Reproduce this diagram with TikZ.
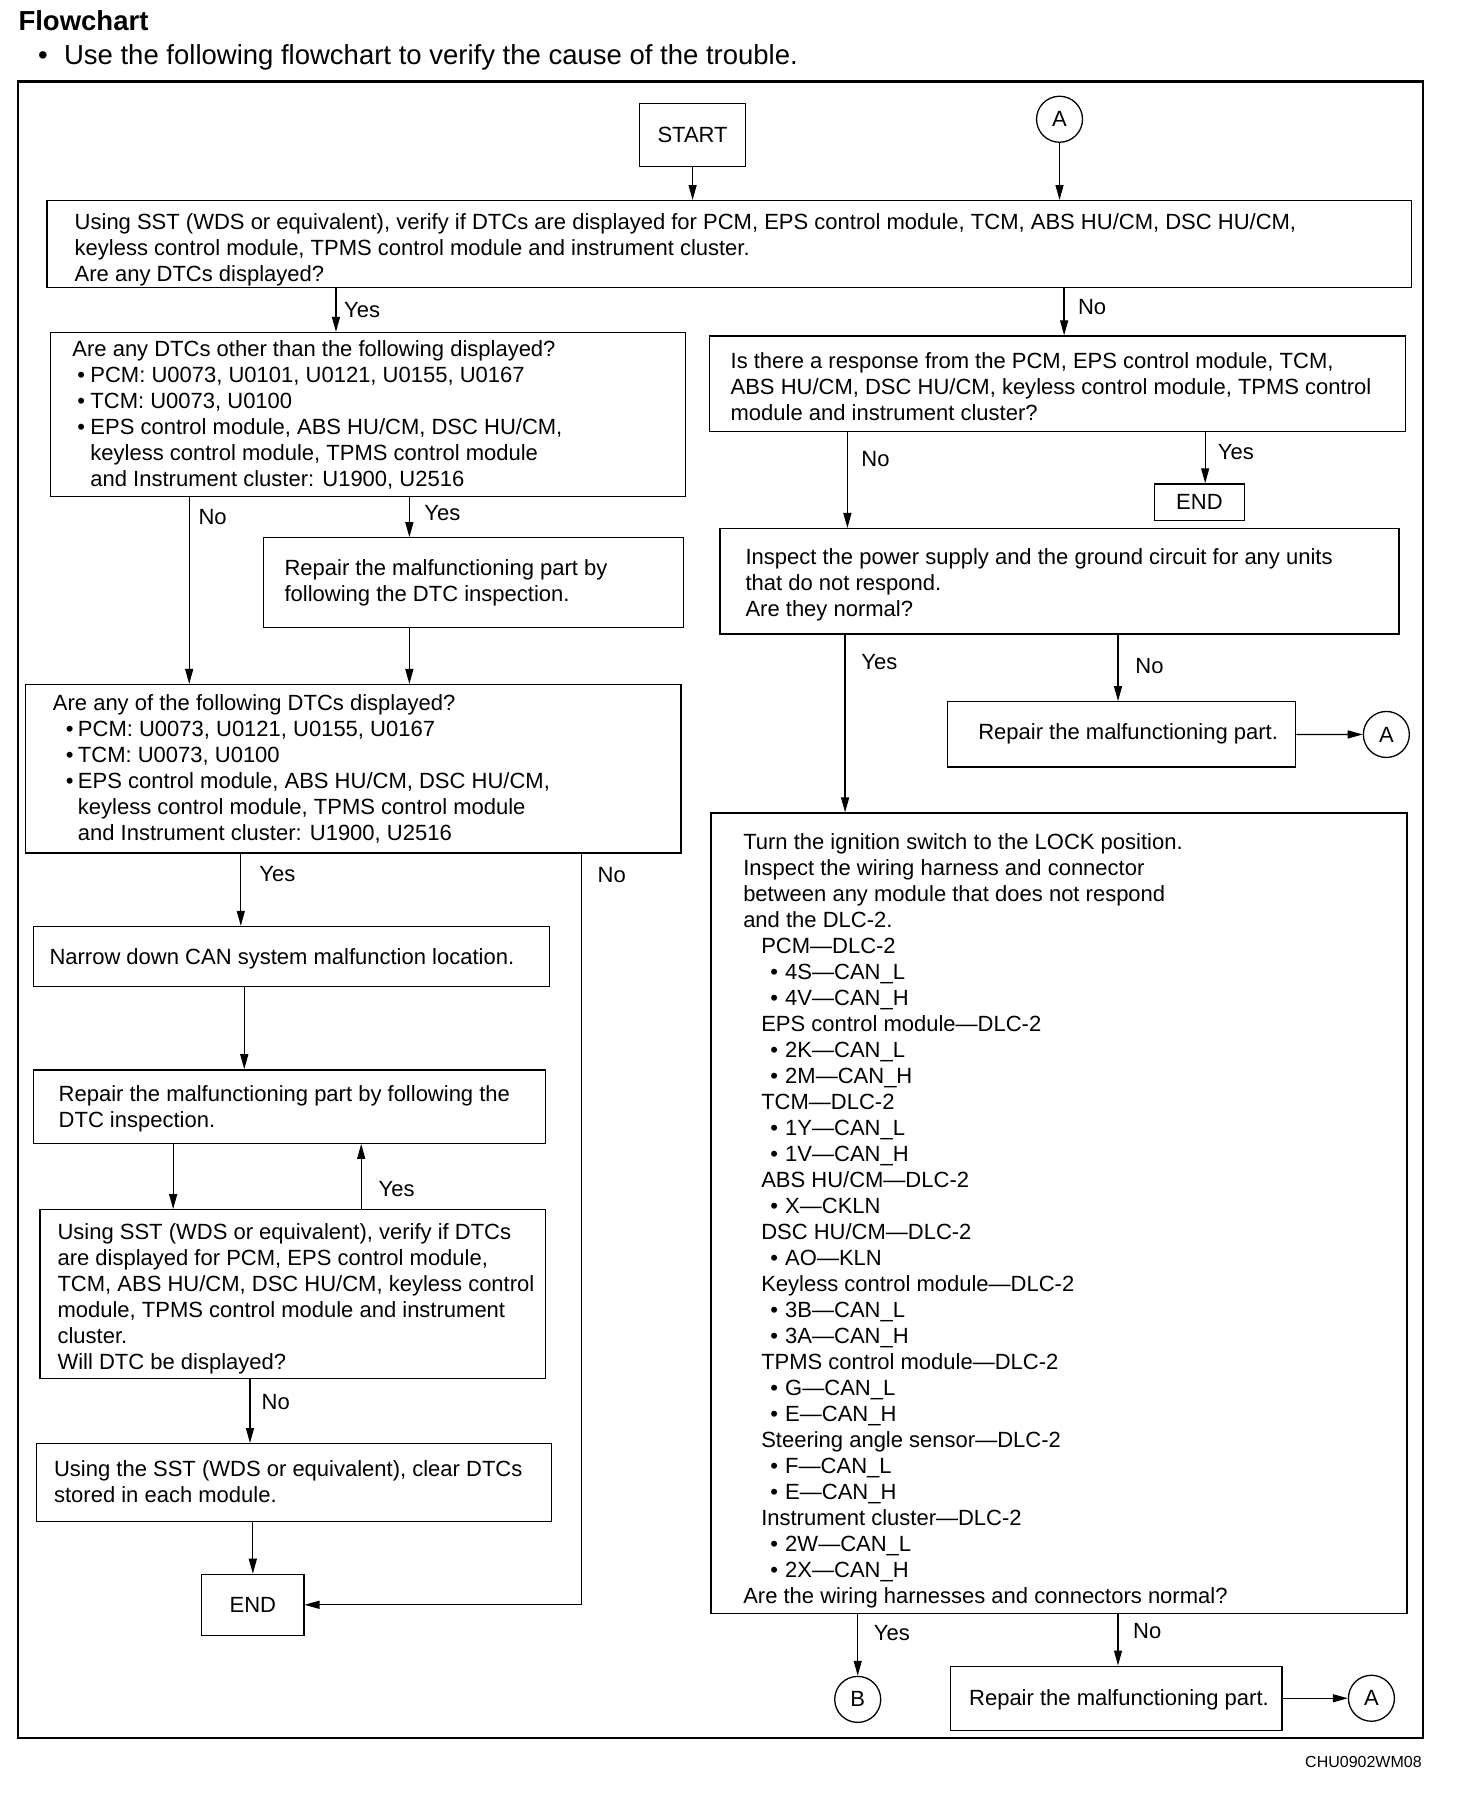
\documentclass[tikz,border=0pt]{standalone}
\usepackage{fontspec}
\setmainfont{Liberation Sans}
\usetikzlibrary{arrows.meta,fit}
\newcommand\txtlines[1]{\begin{tabular}[t]{@{}l@{}}#1\end{tabular}}
\tikzset{
  boxline/.style={draw, line width=1.3pt, inner sep=0pt},
  txt/.style={anchor=base west, inner sep=0pt, font=\fontsize{22}{26}\selectfont},
  conn/.style={line width=1.3pt, -{Triangle[length=15pt,width=8pt]}},
  circ/.style={draw, circle, line width=1.3pt, minimum size=46pt, inner sep=0pt, font=\fontsize{22}{26}\selectfont},
  termbox/.style={draw, line width=1.3pt, inner sep=0pt, font=\fontsize{22}{26}\selectfont},
}
\begin{document}
\begin{tikzpicture}[x=1.1465pt,y=-1.1465pt]
\fill[white] (0,0) rectangle (1270,1568);
\useasboundingbox (0,0) rectangle (1270,1568);

% heading
\node[anchor=base west, inner sep=0pt, font=\fontsize{27.5}{31}\selectfont\bfseries] (title) at (16,27) {Flowchart};
\node[anchor=base west, inner sep=0pt, font=\fontsize{27.5}{31}\selectfont] (intro) at (33,56) {\makebox[26pt][l]{\textbullet}Use the following flowchart to verify the cause of the trouble.};
\node[anchor=base east, inner sep=0pt, font=\fontsize{16}{19}\selectfont] (code) at (1240,1541) {CHU0902WM08};

% frame
\node[draw, line width=2.2pt, inner sep=0pt, fit={(16,71)(1241,1516)}] (frame) {};

% top
\node[termbox, minimum width=105.5pt, minimum height=63pt] (start) at (604,117.5) {START};
\node[circ] (cA1) at (924,104) {A};

\node[boxline, fit={(41,175)(1231,251)}] (b1) {};
\node[txt] (b1t) at (65,200) {\txtlines{Using SST (WDS or equivalent), verify if DTCs are displayed for PCM, EPS control module, TCM, ABS HU/CM, DSC HU/CM,\\
keyless control module, TPMS control module and instrument cluster.\\
Are any DTCs displayed?}};

% left column
\node[boxline, fit={(44,290)(598,433)}] (b2) {};
\node[txt] (b2t) at (63,311) {\txtlines{Are any DTCs other than the following displayed?\\
\hspace*{5pt}\makebox[13pt][l]{\textbullet}PCM: U0073, U0101, U0121, U0155, U0167\\
\hspace*{5pt}\makebox[13pt][l]{\textbullet}TCM: U0073, U0100\\
\hspace*{5pt}\makebox[13pt][l]{\textbullet}EPS control module, ABS HU/CM, DSC HU/CM,\\
\hspace*{18pt}keyless control module, TPMS control module\\
\hspace*{18pt}and Instrument cluster: U1900, U2516}};

\node[boxline, fit={(230,469)(596,547)}] (r1) {};
\node[txt] (r1t) at (248,502) {\txtlines{Repair the malfunctioning part by\\following the DTC inspection.}};

\node[boxline, fit={(22,597)(594,744)}] (b4) {};
\node[txt] (b4t) at (46,620) {\txtlines{Are any of the following DTCs displayed?\\
\hspace*{13pt}\makebox[12pt][l]{\textbullet}PCM: U0073, U0121, U0155, U0167\\
\hspace*{13pt}\makebox[12pt][l]{\textbullet}TCM: U0073, U0100\\
\hspace*{13pt}\makebox[12pt][l]{\textbullet}EPS control module, ABS HU/CM, DSC HU/CM,\\
\hspace*{25pt}keyless control module, TPMS control module\\
\hspace*{25pt}and Instrument cluster: U1900, U2516}};

\node[boxline, fit={(29,808)(479,860)}] (nar) {};
\node[txt] (nart) at (43,841) {Narrow down CAN system malfunction location.};

\node[boxline, fit={(29,933)(476,997)}] (r2) {};
\node[txt] (r2t) at (51,961) {\txtlines{Repair the malfunctioning part by following the\\DTC inspection.}};

\node[boxline, fit={(35,1055)(476,1202)}] (ver) {};
\node[txt] (vert) at (50,1081) {\txtlines{Using SST (WDS or equivalent), verify if DTCs\\
are displayed for PCM, EPS control module,\\
TCM, ABS HU/CM, DSC HU/CM, keyless control\\
module, TPMS control module and instrument\\
cluster.\\
Will DTC be displayed?}};

\node[boxline, fit={(32,1259)(481,1327)}] (clr) {};
\node[txt] (clrt) at (47,1288) {\txtlines{Using the SST (WDS or equivalent), clear DTCs\\stored in each module.}};

\node[termbox, minimum width=102pt, minimum height=60.8pt] (end1) at (220.5,1399.5) {END};

% right column
\node[boxline, fit={(619,293)(1226,376)}] (b3) {};
\node[txt] (b3t) at (637,321) {\txtlines{Is there a response from the PCM, EPS control module, TCM,\\
ABS HU/CM, DSC HU/CM, keyless control module, TPMS control\\
module and instrument cluster?}};

\node[termbox, minimum width=89.4pt, minimum height=36.7pt] (endR) at (1046,438) {END};

\node[boxline, fit={(628,461)(1220,553)}] (insp) {};
\node[txt] (inspt) at (650,492) {\txtlines{Inspect the power supply and the ground circuit for any units\\
that do not respond.\\
Are they normal?}};

\node[boxline, fit={(826,612)(1130,669)}] (r3) {};
\node[txt] (r3t) at (853,645) {Repair the malfunctioning part.};
\node[circ] (cA2) at (1209,640.5) {A};

\node[boxline, fit={(620,709)(1227,1407)}] (big) {};
\node[txt] (bigt) at (648,741) {\txtlines{Turn the ignition switch to the LOCK position.\\
Inspect the wiring harness and connector\\
between any module that does not respond\\
and the DLC-2.\\
\hspace*{18pt}PCM—DLC-2\\
\hspace*{27pt}\makebox[15pt][l]{\textbullet}4S—CAN\_L\\
\hspace*{27pt}\makebox[15pt][l]{\textbullet}4V—CAN\_H\\
\hspace*{18pt}EPS control module—DLC-2\\
\hspace*{27pt}\makebox[15pt][l]{\textbullet}2K—CAN\_L\\
\hspace*{27pt}\makebox[15pt][l]{\textbullet}2M—CAN\_H\\
\hspace*{18pt}TCM—DLC-2\\
\hspace*{27pt}\makebox[15pt][l]{\textbullet}1Y—CAN\_L\\
\hspace*{27pt}\makebox[15pt][l]{\textbullet}1V—CAN\_H\\
\hspace*{18pt}ABS HU/CM—DLC-2\\
\hspace*{27pt}\makebox[15pt][l]{\textbullet}X—CKLN\\
\hspace*{18pt}DSC HU/CM—DLC-2\\
\hspace*{27pt}\makebox[15pt][l]{\textbullet}AO—KLN\\
\hspace*{18pt}Keyless control module—DLC-2\\
\hspace*{27pt}\makebox[15pt][l]{\textbullet}3B—CAN\_L\\
\hspace*{27pt}\makebox[15pt][l]{\textbullet}3A—CAN\_H\\
\hspace*{18pt}TPMS control module—DLC-2\\
\hspace*{27pt}\makebox[15pt][l]{\textbullet}G—CAN\_L\\
\hspace*{27pt}\makebox[15pt][l]{\textbullet}E—CAN\_H\\
\hspace*{18pt}Steering angle sensor—DLC-2\\
\hspace*{27pt}\makebox[15pt][l]{\textbullet}F—CAN\_L\\
\hspace*{27pt}\makebox[15pt][l]{\textbullet}E—CAN\_H\\
\hspace*{18pt}Instrument cluster—DLC-2\\
\hspace*{27pt}\makebox[15pt][l]{\textbullet}2W—CAN\_L\\
\hspace*{27pt}\makebox[15pt][l]{\textbullet}2X—CAN\_H\\
Are the wiring harnesses and connectors normal?}};

\node[circ] (cB) at (748,1482) {B};
\node[boxline, fit={(829,1453)(1118,1509)}] (r4) {};
\node[txt] (r4t) at (845,1487) {Repair the malfunctioning part.};
\node[circ] (cA3) at (1196,1481) {A};

% connectors
\draw[conn] (start.south) -- (b1.north -| start.south);
\draw[conn] (cA1.south) -- (b1.north -| cA1.south);
\draw[conn] (b1.south -| 293,0) -- (b2.north -| 293,0);
\node[txt] (l1) at (300,277) {Yes};
\draw[conn] (b1.south -| 928,0) -- (b3.north -| 928,0);
\node[txt] (l2) at (940,274) {No};

\draw[conn] (b2.south -| 165,0) -- (b4.north -| 165,0);
\node[txt] (l3) at (173,457) {No};
\draw[conn] (b2.south -| 357,0) -- (r1.north -| 357,0);
\node[txt] (l4) at (370,454) {Yes};
\draw[conn] (r1.south -| 357,0) -- (b4.north -| 357,0);

\draw[conn] (b4.south -| 210,0) -- (nar.north -| 210,0);
\node[txt] (l5) at (226,769) {Yes};
\draw[conn] (b4.south -| 507,0) |- (end1.east);
\node[txt] (l6) at (521,770) {No};

\draw[conn] (nar.south -| 213,0) -- (r2.north -| 213,0);
\draw[conn] (r2.south -| 151,0) -- (ver.north -| 151,0);
\draw[conn] (ver.north -| 315,0) -- (r2.south -| 315,0);
\node[txt] (l7) at (330,1043) {Yes};
\draw[conn] (ver.south -| 218,0) -- (clr.north -| 218,0);
\node[txt] (l8) at (228,1229) {No};
\draw[conn] (clr.south -| end1.north) -- (end1.north);

\draw[conn] (b3.south -| 739,0) -- (insp.north -| 739,0);
\node[txt] (l9) at (751,407) {No};
\draw[conn] (b3.south -| 1051,0) -- (endR.north -| 1051,0);
\node[txt] (l10) at (1062,401) {Yes};

\draw[conn] (insp.south -| 737,0) -- (big.north -| 737,0);
\node[txt] (l11) at (751,584) {Yes};
\draw[conn] (insp.south -| 975,0) -- (r3.north -| 975,0);
\node[txt] (l12) at (990,587) {No};
\draw[conn] (r3.east) -- (cA2.west);

\draw[conn] (big.south -| cB.north) -- (cB.north);
\node[txt] (l13) at (762,1431) {Yes};
\draw[conn] (big.south -| 975,0) -- (r4.north -| 975,0);
\node[txt] (l14) at (988,1429) {No};
\draw[conn] (r4.east) -- (cA3.west);
\end{tikzpicture}
\end{document}
